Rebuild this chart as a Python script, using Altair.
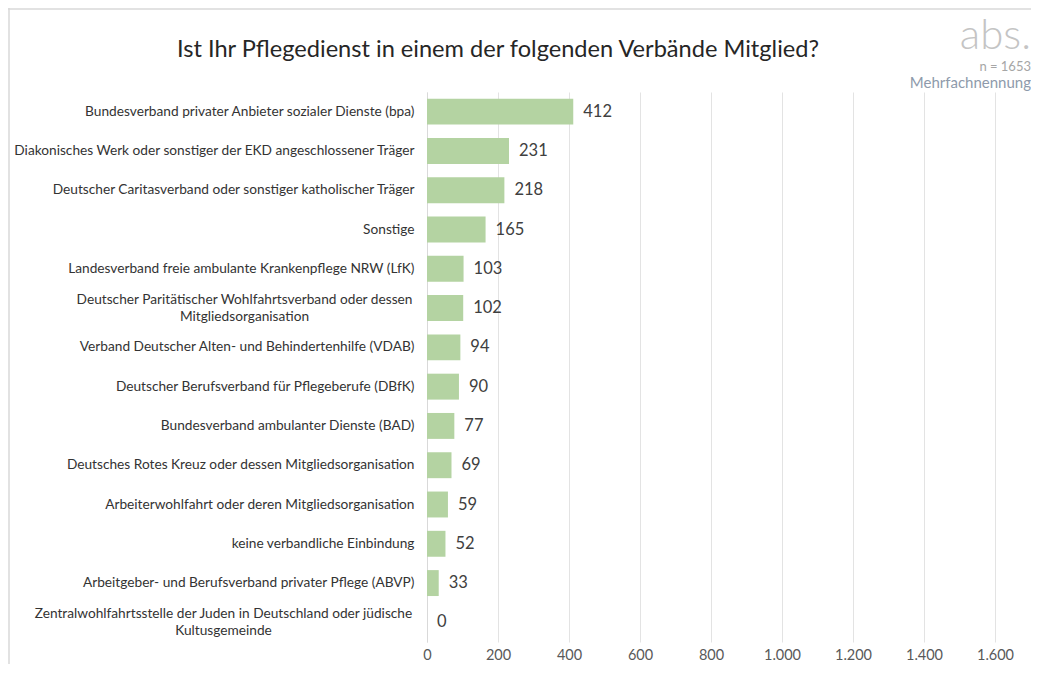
import altair as alt
import pandas as pd

# ---- data ----
categories = [
    "Bundesverband privater Anbieter sozialer Dienste (bpa)",
    "Diakonisches Werk oder sonstiger der EKD angeschlossener Träger",
    "Deutscher Caritasverband oder sonstiger katholischer Träger",
    "Sonstige",
    "Landesverband freie ambulante Krankenpflege NRW (LfK)",
    "Deutscher Paritätischer Wohlfahrtsverband oder dessen|Mitgliedsorganisation",
    "Verband Deutscher Alten- und Behindertenhilfe (VDAB)",
    "Deutscher Berufsverband für Pflegeberufe (DBfK)",
    "Bundesverband ambulanter Dienste (BAD)",
    "Deutsches Rotes Kreuz oder dessen Mitgliedsorganisation",
    "Arbeiterwohlfahrt oder deren Mitgliedsorganisation",
    "keine verbandliche Einbindung",
    "Arbeitgeber- und Berufsverband privater Pflege (ABVP)",
    "Zentralwohlfahrtsstelle der Juden in Deutschland oder jüdische|Kultusgemeinde",
]
values = [412, 231, 218, 165, 103, 102, 94, 90, 77, 69, 59, 52, 33, 0]
x_ticks = [0, 200, 400, 600, 800, 1000, 1200, 1400, 1600]

title_text = ["Ist Ihr Pflegedienst in einem der folgenden Verbände Mitglied?"]
abs_text = ["abs."]
n_text = ["n = 1653"]
mehrfach_text = ["Mehrfachnennung"]

df = pd.DataFrame({"verband": categories, "anzahl": values})

W, H = 568, 550
FONT = "Lato"

label_padding = {
    "condition": [
        {"test": "indexof(datum.label, 'Parit') >= 0", "value": 183},
        {"test": "indexof(datum.label, 'Zentralw') >= 0", "value": 204},
    ],
    "value": 13,
}
label_align = {
    "condition": {"test": "indexof(datum.label, '|') >= 0", "value": "center"},
    "value": "right",
}
label_offset = {
    "condition": {"test": "indexof(datum.label, '|') >= 0", "value": -8.5},
    "value": 0,
}

y_enc = alt.Y(
    "verband:N",
    sort=None,
    title=None,
    scale=alt.Scale(paddingInner=0.34, paddingOuter=0.17),
    axis=alt.Axis(
        labelExpr="split(datum.label, '|')",
        labelAlign=label_align,
        labelPadding=label_padding,
        labelOffset=label_offset,
        labelBaseline="middle",
        labelLineHeight=17,
        labelFont=FONT,
        labelFontSize=13.7,
        labelColor="#333333",
        labelLimit=600,
        ticks=False,
        domain=True,
        domainColor="#d9d9d9",
        domainWidth=1,
        grid=False,
    ),
)

x_enc = alt.X(
    "anzahl:Q",
    title=None,
    scale=alt.Scale(domain=[0, 1600], nice=False),
    axis=alt.Axis(
        values=x_ticks,
        labelExpr="replace(format(datum.value, ','), ',', '.')",
        labelFont=FONT,
        labelFontSize=14.5,
        labelColor="#595959",
        labelPadding=6,
        labelFlush=False,
        labelOverlap=False,
        ticks=False,
        domain=False,
        grid=True,
        gridColor="#e3e3e3",
        gridWidth=1,
    ),
)

base = alt.Chart(df).encode(y=y_enc)

bars = base.mark_bar(color="#b4d3a2").encode(x=x_enc)

value_labels = base.mark_text(
    align="left", baseline="middle", dx=10, font=FONT, fontSize=16.5, color="#404040"
).encode(x=alt.X("anzahl:Q"), text=alt.Text("anzahl:Q"))

title = alt.Chart(pd.DataFrame({"t": title_text})).mark_text(
    align="center", baseline="alphabetic", font=FONT, fontSize=23.6, color="#262626"
).encode(text="t:N", x=alt.value(71), y=alt.value(-35))

abs_label = alt.Chart(pd.DataFrame({"t": abs_text})).mark_text(
    align="right", baseline="alphabetic", font=FONT, fontSize=42, fontWeight=300, color="#c4c4c4"
).encode(text="t:N", x=alt.value(604), y=alt.value(-43))

n_label = alt.Chart(pd.DataFrame({"t": n_text})).mark_text(
    align="right", baseline="alphabetic", font=FONT, fontSize=13, color="#a6a6a6"
).encode(text="t:N", x=alt.value(604), y=alt.value(-21))

mehrfach_label = alt.Chart(pd.DataFrame({"t": mehrfach_text})).mark_text(
    align="right", baseline="alphabetic", font=FONT, fontSize=15, color="#8e9aab"
).encode(text="t:N", x=alt.value(604), y=alt.value(-4))

frame_df = pd.DataFrame({"k": [0]})
frame_left = alt.Chart(frame_df).mark_rule(color="#d9d9d9", strokeWidth=1.5).encode(
    x=alt.value(-418), y=alt.value(-84), y2=alt.value(H + 30)
)
frame_top = alt.Chart(frame_df).mark_rule(color="#d9d9d9", strokeWidth=1.5).encode(
    x=alt.value(-419), x2=alt.value(W + 40), y=alt.value(-83)
)

chart = (
    alt.layer(bars, value_labels, title, abs_label, n_label, mehrfach_label, frame_left, frame_top)
    .properties(
        width=W,
        height=H,
        padding={"left": 419, "top": 84, "right": 36, "bottom": 22},
        autosize=alt.AutoSizeParams(type="none"),
    )
    .configure_view(stroke=None)
)

chart.save("out.html", embed_options={"renderer": "svg", "actions": False})
